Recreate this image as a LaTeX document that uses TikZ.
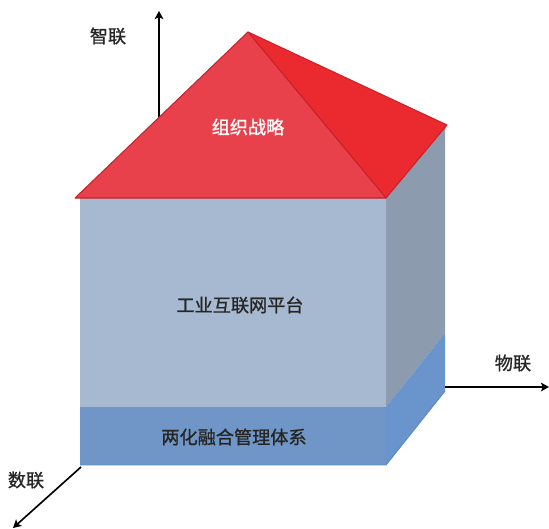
\documentclass[tikz,border=0pt]{standalone}
\usepackage{fontspec}
\usetikzlibrary{arrows.meta}
\newfontfamily\cjk[FakeBold=1]{Noto Sans CJK SC}
\definecolor{roofF}{HTML}{E9414B}
\definecolor{roofS}{HTML}{EA2A2E}
\definecolor{roofL}{HTML}{C9222C}
\definecolor{wallF}{HTML}{A7B9D1}
\definecolor{wallS}{HTML}{8C9BAE}
\definecolor{baseF}{HTML}{6F96C6}
\definecolor{baseS}{HTML}{6A94CC}
\definecolor{baseL}{HTML}{5B87C5}
\begin{document}
\begin{tikzpicture}[x=0.03cm,y=-0.03cm,
    lbl/.style={font=\cjk\fontsize{15.5}{18}\selectfont,text=black!85},
    axis/.style={-{Stealth[length=2.4mm,width=2.6mm,inset=0.5mm]},line width=1.4pt}]
  \useasboundingbox (0,0) rectangle (549,529);
  % axes, drawn first so the house covers their roots
  \coordinate (zlS) at (159,150); \coordinate (zlE) at (159,11);
  \coordinate (wlS) at (440,387); \coordinate (wlE) at (549,387);
  \coordinate (slS) at (81,467);  \coordinate (slE) at (13,528);
  \draw[axis](zlS)--(zlE);
  \draw[axis](wlS)--(wlE);
  \draw[axis](slS)--(slE);
  \node[lbl] (zl) at (108,36) {智联};
  \node[lbl] (wl) at (513,363) {物联};
  \node[lbl] (sl) at (26,480) {数联};
  % house corners
  \coordinate (ftl) at (80,198);  \coordinate (ftr) at (386,198);
  \coordinate (fml) at (80,407);  \coordinate (fmr) at (386,407);
  \coordinate (fbl) at (80,465);  \coordinate (fbr) at (386,465);
  \coordinate (str) at (445,124); \coordinate (smr) at (445,333);
  \coordinate (sbr) at (445,391);
  % walls
  \fill[wallF](ftl)rectangle(fmr);
  \fill[baseF](fml)rectangle(fbr);
  \fill[wallS](ftr)--(str)--(smr)--(fmr)--cycle;
  \fill[baseS](fmr)--(smr)--(sbr)--(fbr)--cycle;
  \draw[baseL,thick](fbl)--(fbr)--(sbr);
  % roof
  \coordinate (apex) at (248,32); \coordinate (rl) at (75,198);
  \coordinate (rr) at (386,198);  \coordinate (rb) at (447,125);
  \draw[roofL,fill=roofS,line width=0.9pt,line join=round](apex)--(rb)--(rr)--cycle;
  \draw[roofL,fill=roofF,line width=0.9pt,line join=round](rl)--(apex)--(rr)--cycle;
  % labels
  \node[lbl,text=white] (zz) at (248,127) {组织战略};
  \node[lbl] (pt) at (240,305) {工业互联网平台};
  \node[lbl] (lh) at (234,437) {两化融合管理体系};
\end{tikzpicture}
\end{document}
